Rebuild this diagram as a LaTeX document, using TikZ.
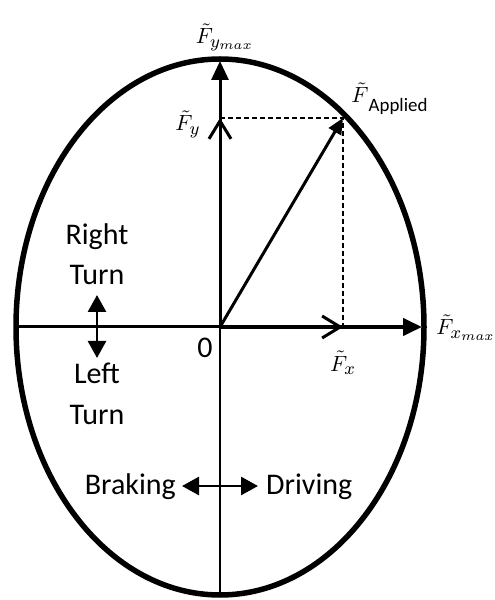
\documentclass[tikz,border=0pt]{standalone}
\usepackage{fontspec}
\setmainfont{Carlito}
\DeclareMathSizes{10}{10}{8}{6.5}
\usetikzlibrary{arrows.meta}
\begin{document}
\begin{tikzpicture}[x=1pt,y=1pt,
  ax/.style={line width=3pt},
  ftip/.style={-{Triangle[length=19pt,width=17pt]}},
  otip/.style={-{Straight Barb[length=18pt,width=22pt,line width=3pt]}},
  dsh/.style={line width=1.5pt,dash pattern=on 5pt off 3pt},
  lbl/.style={font=\fontsize{30}{35}\selectfont, inner sep=0pt},
  mth/.style={inner sep=0pt, font=\fontsize{10}{12}\selectfont, scale=2.2},
  dbl/.style={line width=2.8pt,{Triangle[length=17pt,width=18pt]}-{Triangle[length=17pt,width=18pt]}}]
\useasboundingbox (0,0) rectangle (495,600);
\coordinate (O) at (220,273);
\coordinate (T) at (220,539);
\coordinate (B) at (220,5);
\coordinate (L) at (16,273);
\coordinate (R) at (422,273);
\coordinate (A) at (343,482);
\coordinate (Y) at (220,482);
\coordinate (X) at (343,273);
\draw[line width=5.5pt] (O) ellipse [x radius=204, y radius=268];
\draw[ax] (L) -- (O);
\draw[line width=2.5pt] (B) -- (O);
\draw[ax,ftip] (O) -- (T);
\draw[line width=4pt,ftip] (O) -- (R);
\draw[ax,otip] (O) -- (Y);
\draw[ax,otip] (O) -- (X);
\draw[ax,-{Triangle[length=16pt,width=14pt]}] (O) -- (A);
\draw[dsh] (Y) -- (A) -- (X);
% labels
\node[mth] (fymax) at (225,563) {$\tilde{F}_{y_{max}}$};
\node[mth,anchor=base west] (fapp) at (351,497) {$\tilde{F}$\raisebox{-4pt}{\fontsize{8.6}{10}\selectfont Applied}};
\node[mth] (fy) at (188,476) {$\tilde{F}_y$};
\node[mth] (fx) at (343,237) {$\tilde{F}_x$};
\node[mth,anchor=base west] (fxmax) at (436,265) {$\tilde{F}_{x_{max}}$};
\node[lbl] (zero) at (205,252) {0};
\node[lbl,anchor=base] (right) at (97,355) {Right};
\node[lbl,anchor=base] (turn1) at (97,315) {Turn};
\node[lbl,anchor=base] (left) at (97,216) {Left};
\node[lbl,anchor=base] (turn2) at (97,175) {Turn};
\node[lbl,anchor=base east] (brk) at (176,105) {Braking};
\node[lbl,anchor=base west] (drv) at (266,105) {Driving};
\coordinate (ua) at (97,305);
\coordinate (da) at (97,242);
\coordinate (la) at (182,114);
\coordinate (ra) at (258,114);
\draw[dbl] (da) -- (ua);
\draw[dbl] (la) -- (ra);
\end{tikzpicture}
\end{document}
